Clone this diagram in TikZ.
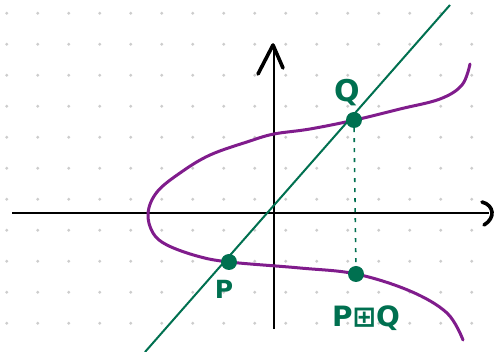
\documentclass[tikz,border=0pt]{standalone}
\usepackage{fontspec}
\setmainfont{DejaVu Sans}
\definecolor{cpurple}{RGB}{128,28,140}
\definecolor{cgreen}{RGB}{0,112,80}
\definecolor{cdot}{RGB}{205,205,205}
\begin{document}
\begin{tikzpicture}[x=1pt,y=-1pt,
  griddot/.style={fill=cdot,draw=none,circle,inner sep=0pt,minimum size=3.2pt},
  axisline/.style={line width=2.4pt,black},
  tipline/.style={line width=3.6pt,black,line cap=round,line join=round},
  curveline/.style={line width=3pt,cpurple,line cap=round},
  greenline/.style={line width=2pt,cgreen},
  ptdot/.style={circle,fill=cgreen,draw=none,inner sep=0pt,minimum size=16pt},
  ptlabel/.style={text=cgreen,inner sep=0pt}]
\useasboundingbox (0,0) rectangle (499,352);
\fill[white] (0,0) rectangle (499,352);
% dot grid
\foreach \i in {0,...,15}{
  \foreach \j in {0,...,10}{
    \node[griddot] (g\i-\j) at ({6.7+31*\i},{13.3+31*\j}) {};
  }
}
% axes
\coordinate (xl) at (12,213);
\coordinate (xr) at (489,213);
\coordinate (yb) at (274,329);
\coordinate (yt) at (274,48);
\draw[axisline] (xl) -- (xr);
\draw[axisline] (yb) -- (yt);
\draw[tipline] (482,202) .. controls (494,205) and (496,218) .. (484,225);
\draw[tipline] (258,74) -- (273,45) -- (283,68);
% curve
\draw[curveline] plot[smooth,tension=0.6] coordinates {
 (470,64) (462,85) (440,99) (400,109) (355,120) (310,129) (274,134) (250,141)
 (210,155) (180,173) (157,192) (148,213) (153,233) (167,245) (197,256)
 (229,262) (300,268) (356,274) (410,291) (447,313) (463,340)};
% points
\coordinate (P) at (229,262);
\coordinate (Q) at (354,120);
\coordinate (R) at (356,274);
\coordinate (gs) at (145,352);
\coordinate (ge) at (450,5);
\draw[greenline] (gs) -- (ge);
\node[ptdot] (Pd) at (P) {};
\node[ptdot] (Qd) at (Q) {};
\node[ptdot] (Rd) at (R) {};
\draw[line width=1.6pt,cgreen,dash pattern=on 4pt off 6pt] (Qd) -- (Rd);
\node[ptlabel,font=\bfseries\fontsize{30}{30}\selectfont] (Ql) at (347,93) {Q};
\node[ptlabel,font=\bfseries\fontsize{25}{25}\selectfont] (Pl) at (224,289) {P};
\node[ptlabel,font=\bfseries\fontsize{28}{28}\selectfont] (Rl) at (366,318) {P⊞Q};
\end{tikzpicture}
\end{document}
